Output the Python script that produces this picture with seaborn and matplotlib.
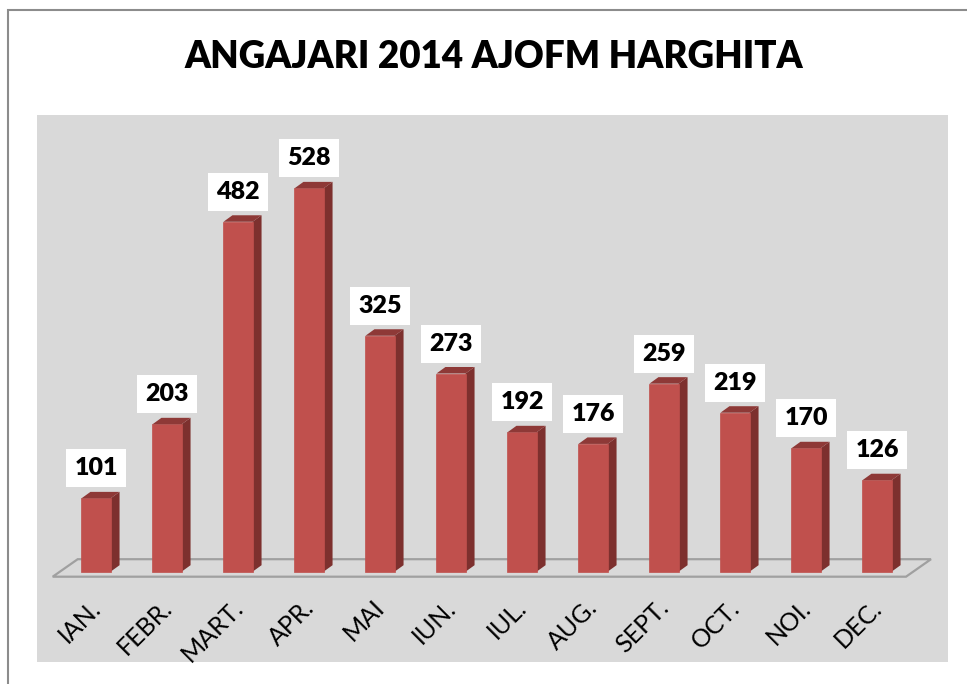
import matplotlib
matplotlib.use("Agg")
import matplotlib.pyplot as plt
import seaborn as sns
from matplotlib.patches import Polygon, Rectangle

# date
luni = ["IAN.", "FEBR.", "MART.", "APR.", "MAI", "IUN.", "IUL.", "AUG.",
        "SEPT.", "OCT.", "NOI.", "DEC."]
angajari = [101, 203, 482, 528, 325, 273, 192, 176, 259, 219, 170, 126]
titlu = "ANGAJARI 2014 AJOFM HARGHITA"

sns.set_style("white")
plt.rcParams["font.family"] = ["Lato", "DejaVu Sans"]

W, H = 967, 684
fig = plt.figure(figsize=(W / 100, H / 100), dpi=100)
fig.patch.set_facecolor("white")

# chenar exterior
fig.add_artist(Rectangle((8 / W, -0.05), 1.1, 1 - 10 / H + 0.05,
                         transform=fig.transFigure, fill=False,
                         edgecolor="#8c8c8c", linewidth=1.5))

# zona graficului
x0, x1, y0, y1 = 37, 948, 115, 662
ax = fig.add_axes([x0 / W, 1 - y1 / H, (x1 - x0) / W, (y1 - y0) / H])
ax.set_facecolor("#d9d9d9")

px_x = 71.0      # pixeli pe categorie
px_y = 0.726     # pixeli pe unitate
xmin = -(96 - x0) / px_x
xmax = xmin + (x1 - x0) / px_x
base = 571.7
ymin = -(y1 - base) / px_y
ymax = (base - y0) / px_y

sns.barplot(x=luni, y=angajari, color="#c0504d", saturation=1,
            width=0.41, ax=ax, zorder=3, edgecolor="#c0504d", linewidth=0.5)

ax.set_xlim(xmin, xmax)
ax.set_ylim(ymin, ymax)

# podea
fdx, fdy = 25 / px_x, 17.5 / px_y
fy = -5 / px_y
fl = xmin + (52.7 - x0) / px_x
fr = xmin + (906 - x0) / px_x
ax.add_patch(Polygon([(fl, fy), (fr, fy), (fr + fdx, fy + fdy), (fl + fdx, fy + fdy)],
                     closed=True, facecolor="#d9d9d9", edgecolor="#a0a0a0",
                     linewidth=1.6, zorder=1))

# efect 3D
dx, dy = 9 / px_x, 6.5 / px_y
for p in ax.patches[:]:
    if not isinstance(p, Rectangle) or p.get_width() > 1:
        continue
    a = p.get_x()
    b = a + p.get_width()
    h = p.get_height()
    ax.add_patch(Polygon([(b, 0), (b + dx, dy), (b + dx, h + dy), (b, h)],
                         closed=True, facecolor="#7d302e", edgecolor="none", zorder=2))
    ax.add_patch(Polygon([(a, h), (a + dx, h + dy), (b + dx, h + dy), (b, h)],
                         closed=True, facecolor="#8e3937", edgecolor="none", zorder=4))

# etichete valori
for i, v in enumerate(angajari):
    ax.annotate(str(v), (i, v), xytext=(0, 21.6), textcoords="offset points",
                ha="center", va="center", fontsize=18, fontweight="heavy",
                color="black", zorder=6,
                bbox=dict(boxstyle="square,pad=0.32", facecolor="white", edgecolor="none"))

# etichete luni
for i, m in enumerate(luni):
    ax.text(i + 1 / px_x, -(604 - base) / px_y, m, rotation=45,
            rotation_mode="anchor", ha="right", va="center",
            fontsize=18, color="black", clip_on=False)

ax.set_xticks([])
ax.set_yticks([])
ax.set_xlabel("")
ax.set_ylabel("")
for s in ax.spines.values():
    s.set_visible(False)

fig.text(494 / W, 1 - 57 / H, titlu, ha="center", va="center",
         fontsize=26.5, fontweight="heavy", color="black")

fig.savefig("out.png", dpi=100)
